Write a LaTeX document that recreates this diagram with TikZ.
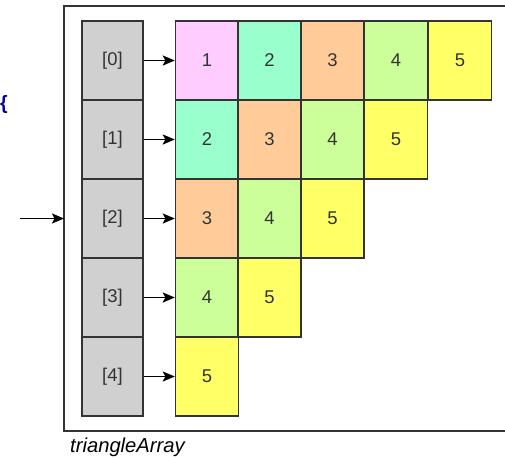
\documentclass[tikz,border=0pt]{standalone}
\usepackage{fontspec}
\setmainfont{Liberation Sans}
\usepackage{tikz}
\usetikzlibrary{arrows.meta,positioning}
\definecolor{cellpink}{RGB}{255,204,255}
\definecolor{cellteal}{RGB}{153,255,204}
\definecolor{cellorange}{RGB}{255,204,153}
\definecolor{cellgreen}{RGB}{204,255,153}
\definecolor{cellyellow}{RGB}{255,255,102}
\definecolor{indexgray}{RGB}{208,208,208}
\definecolor{linegray}{RGB}{51,51,51}
\definecolor{bracenavy}{RGB}{0,0,160}

\begin{document}
\begin{tikzpicture}[x=0.02cm,y=-0.02cm,
  every node/.style={align=center,font=\fontsize{10.5}{12}\selectfont,text=linegray},
  indexbox/.style={draw=linegray,line width=0.8pt,fill=indexgray,minimum width=1.22cm,minimum height=1.58cm,inner sep=0pt},
  cellbox/.style={draw=linegray,line width=0.8pt,minimum width=1.26cm,minimum height=1.58cm,inner sep=0pt},
  pointer/.style={-{Stealth[length=0.24cm,width=0.2cm,inset=0.05cm]},line width=1pt,black}]
  \useasboundingbox (0,0) rectangle (505,458);
  % frame of the array, open on the right
  \draw[line width=0.8pt,linegray] (505,6) -- (64,6) -- (64,431) -- (505,431);
  \node[font=\bfseries\fontsize{11}{12}\selectfont,text=bracenavy] (brace) at (4,104) {\{};
  \node[anchor=west,font=\itshape\fontsize{11.5}{13}\selectfont,text=black] (name) at (64,447) {triangleArray};
  \coordinate (start) at (20,218.5);
  \coordinate (entry) at (64,218.5);
  \draw[pointer] (start) -- (entry);
  % index column
  \node[indexbox] (i0) at (112.5,60.5) {[0]};
  \node[indexbox] (i1) at (112.5,139.5) {[1]};
  \node[indexbox] (i2) at (112.5,218.5) {[2]};
  \node[indexbox] (i3) at (112.5,297.5) {[3]};
  \node[indexbox] (i4) at (112.5,376.5) {[4]};
  % row 0
  \node[cellbox,fill=cellpink] (c00) at (207,60.5) {1};
  \node[cellbox,fill=cellteal] (c01) at (269.5,60.5) {2};
  \node[cellbox,fill=cellorange] (c02) at (332.5,60.5) {3};
  \node[cellbox,fill=cellgreen] (c03) at (396,60.5) {4};
  \node[cellbox,fill=cellyellow] (c04) at (460,60.5) {5};
  % row 1
  \node[cellbox,fill=cellteal] (c10) at (207,139.5) {2};
  \node[cellbox,fill=cellorange] (c11) at (269.5,139.5) {3};
  \node[cellbox,fill=cellgreen] (c12) at (332.5,139.5) {4};
  \node[cellbox,fill=cellyellow] (c13) at (396,139.5) {5};
  % row 2
  \node[cellbox,fill=cellorange] (c20) at (207,218.5) {3};
  \node[cellbox,fill=cellgreen] (c21) at (269.5,218.5) {4};
  \node[cellbox,fill=cellyellow] (c22) at (332.5,218.5) {5};
  % row 3
  \node[cellbox,fill=cellgreen] (c30) at (207,297.5) {4};
  \node[cellbox,fill=cellyellow] (c31) at (269.5,297.5) {5};
  % row 4
  \node[cellbox,fill=cellyellow] (c40) at (207,376.5) {5};
  \draw[pointer] (i0) -- (c00);
  \draw[pointer] (i1) -- (c10);
  \draw[pointer] (i2) -- (c20);
  \draw[pointer] (i3) -- (c30);
  \draw[pointer] (i4) -- (c40);
\end{tikzpicture}
\end{document}
